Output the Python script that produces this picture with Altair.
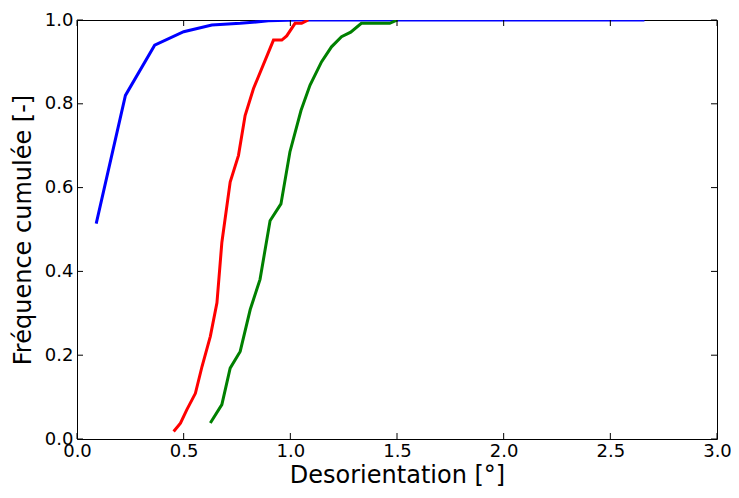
import altair as alt
import pandas as pd

blue_x = [0.09, 0.227, 0.364, 0.50, 0.632, 0.765, 0.897, 1.03, 1.17, 1.30, 1.44, 1.57, 1.71, 1.84, 1.98, 2.12, 2.25, 2.39, 2.53, 2.66]
blue_y = [0.514, 0.820, 0.940, 0.972, 0.988, 0.992, 0.998, 1.0, 1.0, 1.0, 1.0, 1.0, 1.0, 1.0, 1.0, 1.0, 1.0, 1.0, 1.0, 1.0]

red_x = [0.453, 0.485, 0.515, 0.555, 0.586, 0.625, 0.656, 0.679, 0.718, 0.757, 0.788, 0.827, 0.921, 0.960, 0.983, 1.022, 1.053, 1.084]
red_y = [0.018, 0.038, 0.070, 0.109, 0.173, 0.245, 0.325, 0.469, 0.613, 0.677, 0.772, 0.836, 0.952, 0.952, 0.962, 0.992, 0.992, 1.0]

green_x = [0.625, 0.679, 0.718, 0.765, 0.812, 0.858, 0.905, 0.956, 0.998, 1.050, 1.092, 1.146, 1.193, 1.240, 1.283, 1.333, 1.466, 1.502]
green_y = [0.038, 0.082, 0.169, 0.209, 0.309, 0.381, 0.521, 0.561, 0.685, 0.784, 0.844, 0.900, 0.936, 0.960, 0.971, 0.992, 0.992, 1.0]

series_names = ["A", "B", "C"]
series_colors = ["#0000ff", "#ff0000", "#008000"]

x_ticks = [0.0, 0.5, 1.0, 1.5, 2.0, 2.5, 3.0]
y_ticks = [0.0, 0.2, 0.4, 0.6, 0.8, 1.0]

rows = []
for name, xs, ys in zip(series_names, [blue_x, red_x, green_x], [blue_y, red_y, green_y]):
    for i, (a, b) in enumerate(zip(xs, ys)):
        rows.append({"s": name, "x": a, "y": b, "o": i})
df = pd.DataFrame(rows)

W, H = 640, 419
FONT = "DejaVu Sans"

xscale = alt.Scale(domain=[0, 3], nice=False, zero=False)
yscale = alt.Scale(domain=[0, 1], nice=False, zero=False)

lines = alt.Chart(df).mark_line(strokeWidth=3, clip=True).encode(
    x=alt.X("x:Q", scale=xscale,
            axis=alt.Axis(values=x_ticks, format=".1f", title="Desorientation [°]",
                          ticks=False, domain=False, grid=False, labelFontSize=18,
                          labelPadding=3, titleFontSize=24, titlePadding=3,
                          titleFontWeight="normal", labelColor="black", titleColor="black",
                          labelFlush=False, labelFont=FONT, titleFont=FONT)),
    y=alt.Y("y:Q", scale=yscale,
            axis=alt.Axis(values=y_ticks, format=".1f", title="Fréquence cumulée [-]",
                          ticks=False, domain=False, grid=False, labelFontSize=18,
                          labelPadding=4, titleFontSize=24, titlePadding=9,
                          titleFontWeight="normal", labelColor="black", titleColor="black",
                          labelFlush=False, labelFont=FONT, titleFont=FONT)),
    color=alt.Color("s:N", scale=alt.Scale(domain=series_names, range=series_colors), legend=None),
    order="o:Q",
)

xt = pd.DataFrame({"x": x_ticks})
yt = pd.DataFrame({"y": y_ticks})

bt = alt.Chart(xt).mark_rule(color="black", strokeWidth=1).encode(
    x=alt.X("x:Q", scale=xscale), y=alt.value(H), y2=alt.value(H - 6))
tt = alt.Chart(xt).mark_rule(color="black", strokeWidth=1).encode(
    x=alt.X("x:Q", scale=xscale), y=alt.value(0), y2=alt.value(6))
lt = alt.Chart(yt).mark_rule(color="black", strokeWidth=1).encode(
    y=alt.Y("y:Q", scale=yscale), x=alt.value(0), x2=alt.value(6))
rt = alt.Chart(yt).mark_rule(color="black", strokeWidth=1).encode(
    y=alt.Y("y:Q", scale=yscale), x=alt.value(W), x2=alt.value(W - 6))

chart = alt.layer(lines, bt, tt, lt, rt).properties(
    width=W, height=H,
    autosize=alt.AutoSizeParams(type="none"),
    padding={"left": 69, "top": 12, "right": 14, "bottom": 50},
).configure(font=FONT).configure_view(stroke="black", strokeWidth=1)

chart.save("out.html", embed_options={"renderer": "svg", "actions": False})
